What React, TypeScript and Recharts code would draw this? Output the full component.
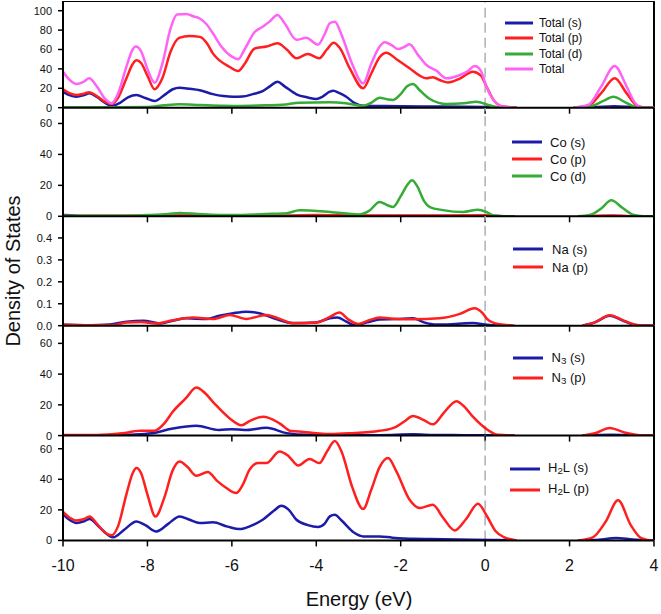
import { LineChart, Line, XAxis, YAxis, ReferenceLine } from "recharts";

type Pt = [number, number | null];

const energyTicks = [-10, -8, -6, -4, -2, 0, 2, 4];
const totalTicks = [0, 20, 40, 60, 80, 100];
const coTicks = [0, 20, 40, 60];
const naTicks = [0, 0.1, 0.2, 0.3, 0.4];
const n3Ticks = [0, 20, 40, 60];
const h2lTicks = [0, 20, 40, 60];

// band gap: lines break between ~0.7 and ~2.2 eV
const gap: Pt = [1.5, null];

const totalS: Pt[] = [
  [-10, 16.5], [-9.85, 13], [-9.68, 11.3], [-9.5, 13], [-9.38, 14.8], [-9.2, 11], [-9.0, 5], [-8.85, 1.8],
  [-8.65, 5], [-8.45, 11], [-8.26, 13], [-8.05, 10], [-7.83, 6.9], [-7.6, 13], [-7.4, 19], [-7.24, 20.6],
  [-7.0, 19.5], [-6.76, 18], [-6.45, 14], [-6.2, 12], [-5.97, 11.3], [-5.75, 11.5], [-5.5, 14], [-5.27, 17],
  [-5.1, 22], [-4.92, 26.8], [-4.75, 22], [-4.47, 13.8], [-4.2, 10.5], [-4.0, 9], [-3.85, 11.5], [-3.68, 16.5],
  [-3.6, 17.5], [-3.45, 15], [-3.29, 11.3], [-3.1, 5], [-2.89, 2], [-2.5, 1.8], [-2.0, 1.5], [-1.5, 1.3],
  [-1.0, 1.2], [-0.5, 1.0], [0, 0.8], [0.3, 0.3], [0.75, 0], gap, [2.1, 0], [2.6, 0.5], [3.05, 1.5],
  [3.5, 0.5], [3.7, 0], [4, 0],
];
const totalP: Pt[] = [
  [-10, 19], [-9.85, 15], [-9.68, 13], [-9.5, 14.5], [-9.38, 15.9], [-9.2, 12], [-9.0, 6], [-8.85, 3.8],
  [-8.7, 10], [-8.5, 30], [-8.35, 45], [-8.26, 49], [-8.15, 46], [-8.0, 33], [-7.83, 19], [-7.65, 30],
  [-7.45, 58], [-7.25, 72], [-7.0, 74], [-6.76, 73], [-6.6, 67], [-6.45, 56], [-6.05, 42], [-5.85, 37.8],
  [-5.7, 45], [-5.46, 61], [-5.18, 63], [-4.92, 66.4], [-4.7, 60], [-4.47, 51], [-4.2, 55.4], [-3.93, 51],
  [-3.75, 60], [-3.59, 67], [-3.45, 62], [-3.2, 40], [-2.89, 20], [-2.7, 35], [-2.5, 52], [-2.34, 56.7],
  [-2.1, 50], [-1.79, 40.6], [-1.55, 33], [-1.39, 30.3], [-1.24, 31.3], [-1.05, 28], [-0.88, 26], [-0.6, 30],
  [-0.29, 37], [-0.1, 33], [0.03, 22], [0.2, 8], [0.4, 1.5], [0.75, 0], gap, [2.1, 0], [2.45, 2],
  [2.75, 15], [3.07, 30.3], [3.35, 15], [3.6, 2], [3.8, 0], [4, 0],
];
const totalD: Pt[] = [
  [-10, 0.5], [-9, 0.5], [-8.0, 0.8], [-7.6, 2.5], [-7.24, 3.5], [-6.76, 2.8], [-6.2, 2], [-5.8, 1.8],
  [-5.2, 2.5], [-4.8, 3], [-4.4, 5], [-3.68, 5.5], [-3.3, 4.5], [-2.89, 1.8], [-2.7, 5], [-2.5, 10.3],
  [-2.3, 8.5], [-2.18, 8], [-2.0, 14], [-1.85, 22], [-1.71, 24.4], [-1.55, 18], [-1.31, 9], [-1.1, 5],
  [-0.92, 3.8], [-0.5, 4.5], [-0.21, 6.2], [0.1, 2.5], [0.3, 0.5], [0.6, 0], gap, [2.2, 0], [2.55, 2],
  [2.8, 7], [3.04, 11.3], [3.3, 6], [3.55, 1], [3.8, 0], [4, 0],
];
const totalAll: Pt[] = [
  [-10, 37], [-9.85, 29], [-9.68, 24.4], [-9.5, 27], [-9.38, 30.3], [-9.2, 22], [-9.0, 9], [-8.85, 4.5],
  [-8.7, 14], [-8.5, 42], [-8.35, 60], [-8.28, 63], [-8.15, 58], [-8.0, 40], [-7.83, 25.8], [-7.65, 45],
  [-7.45, 82], [-7.3, 96], [-7.08, 96.6], [-6.9, 94], [-6.76, 92], [-6.6, 86], [-6.45, 76.7], [-6.25, 63],
  [-6.0, 52.6], [-5.85, 50], [-5.7, 60], [-5.46, 78], [-5.27, 83.5], [-5.1, 89], [-4.92, 95.5], [-4.75, 87],
  [-4.47, 70], [-4.24, 72], [-3.96, 65], [-3.8, 76], [-3.68, 87], [-3.56, 88.7], [-3.4, 75], [-3.15, 45],
  [-2.89, 25], [-2.7, 45], [-2.5, 63], [-2.38, 67.4], [-2.2, 64], [-2.07, 60.5], [-1.9, 63], [-1.79, 65.3],
  [-1.6, 55], [-1.39, 44], [-1.15, 38], [-0.92, 30.3], [-0.6, 33.7], [-0.4, 38], [-0.25, 43], [-0.1, 38],
  [0.03, 21.6], [0.2, 8], [0.42, 1], [0.75, 0], gap, [2.08, 0], [2.45, 3], [2.75, 22], [3.07, 43],
  [3.35, 22], [3.55, 5], [3.7, 0], [4, 0],
];

const coS: Pt[] = [
  [-10, 0.8], [-9.8, 0.6], [-9.5, 0.2], [-8, 0.2], [-6, 0.2], [-4, 0.3], [-2, 0.2], [0, 0.2], [0.6, 0],
  gap, [2.3, 0], [3, 0.2], [3.7, 0], [4, 0],
];
const coP: Pt[] = [
  [-10, 0.2], [-8, 0.3], [-7, 0.6], [-6, 0.5], [-5, 0.3], [-4, 0.8], [-3, 0.5], [-2, 0.5], [-1, 0.5],
  [0, 0.6], [0.4, 0.1], [0.7, 0], gap, [2.3, 0], [3, 0.5], [3.7, 0], [4, 0],
];
const coD: Pt[] = [
  [-10, 0.3], [-8.5, 0.3], [-8, 0.8], [-7.5, 1.5], [-7.24, 2.1], [-6.8, 1.5], [-6.0, 0.8], [-5.2, 1.5],
  [-4.7, 2], [-4.4, 3.9], [-3.67, 2.8], [-3.0, 1.2], [-2.75, 3.5], [-2.5, 9.3], [-2.3, 7], [-2.18, 6],
  [-2.0, 13], [-1.85, 20], [-1.73, 23.3], [-1.6, 19], [-1.45, 10], [-1.31, 6], [-1.0, 4], [-0.52, 2.8],
  [-0.17, 4.3], [0.05, 2.5], [0.2, 0.5], [0.5, 0], [0.7, 0], gap, [2.2, 0], [2.5, 1], [2.75, 5],
  [2.99, 10.3], [3.25, 5.5], [3.5, 1], [3.75, 0], [4, 0],
];

const naS: Pt[] = [
  [-10, 0.004], [-9.3, 0.002], [-8.9, 0.005], [-8.5, 0.018], [-8.1, 0.023], [-7.7, 0.01], [-7.35, 0.025],
  [-7.08, 0.034], [-6.6, 0.03], [-6.3, 0.045], [-5.97, 0.057], [-5.66, 0.064], [-5.35, 0.057], [-4.95, 0.03],
  [-4.55, 0.012], [-4.0, 0.015], [-3.68, 0.034], [-3.5, 0.037], [-3.3, 0.02], [-3.1, 0.003], [-2.8, 0.015],
  [-2.5, 0.028], [-2.1, 0.03], [-1.71, 0.034], [-1.45, 0.015], [-1.15, 0.005], [-0.7, 0.008], [-0.3, 0.012],
  [0.05, 0.004], [0.3, 0.001], [0.6, 0], gap, [2.3, 0], [2.6, 0.015], [2.95, 0.045], [3.3, 0.02],
  [3.6, 0.002], [4, 0],
];
const naP: Pt[] = [
  [-10, 0.005], [-9.5, 0.002], [-8.8, 0.003], [-8.5, 0.015], [-8.15, 0.017], [-7.8, 0.01], [-7.4, 0.025],
  [-6.92, 0.037], [-6.45, 0.03], [-6.05, 0.049], [-5.66, 0.031], [-5.18, 0.049], [-4.85, 0.03],
  [-4.55, 0.011], [-4.0, 0.014], [-3.68, 0.04], [-3.45, 0.06], [-3.25, 0.03], [-3.01, 0.008], [-2.75, 0.025],
  [-2.5, 0.037], [-2.1, 0.03], [-1.71, 0.029], [-1.08, 0.034], [-0.6, 0.054], [-0.25, 0.08], [-0.05, 0.055],
  [0.05, 0.03], [0.3, 0.008], [0.6, 0.002], [0.7, 0], gap, [2.3, 0], [2.6, 0.015], [2.95, 0.048],
  [3.3, 0.022], [3.6, 0.003], [4, 0],
];

const n3S: Pt[] = [
  [-10, 0.2], [-9, 0.2], [-8.4, 0.6], [-7.9, 1.5], [-7.4, 4.6], [-6.84, 6.4], [-6.3, 3.6], [-6.0, 4.2],
  [-5.7, 3.6], [-5.18, 5.1], [-4.7, 1.6], [-4.2, 0.5], [-3.5, 0.4], [-2.5, 0.3], [-1.7, 0.8], [-1.2, 0.4],
  [-0.5, 0.3], [0, 0.2], [0.7, 0], gap, [2.3, 0], [3.0, 0.6], [3.7, 0], [4, 0],
];
const n3P: Pt[] = [
  [-10, 0.4], [-9.2, 0.4], [-8.6, 1.5], [-8.18, 3.1], [-7.83, 3.2], [-7.6, 8], [-7.4, 15.5], [-7.1, 24],
  [-6.84, 31.3], [-6.65, 28], [-6.45, 22], [-6.05, 11.2], [-5.77, 6.8], [-5.56, 9.8], [-5.26, 12.2],
  [-4.87, 8], [-4.6, 3], [-4.3, 2.4], [-4.0, 1.6], [-3.67, 1], [-3.2, 1.5], [-2.5, 3.1], [-2.11, 5.7],
  [-1.9, 9.5], [-1.71, 12.7], [-1.45, 10], [-1.24, 7.3], [-0.96, 15.5], [-0.68, 22.4], [-0.5, 19],
  [-0.29, 12.3], [0.01, 4.7], [0.3, 0.5], [0.7, 0], gap, [2.3, 0], [2.6, 1.5], [2.95, 5], [3.3, 2],
  [3.75, 0], [4, 0],
];

const h2lS: Pt[] = [
  [-10, 17.1], [-9.85, 13.5], [-9.68, 11.4], [-9.5, 12.5], [-9.37, 14], [-9.15, 9], [-8.81, 2], [-8.55, 7],
  [-8.26, 12.4], [-8.05, 10], [-7.79, 5.9], [-7.5, 11], [-7.24, 15.7], [-7.0, 13.5], [-6.76, 11.4],
  [-6.45, 11.8], [-6.1, 9], [-5.82, 7.4], [-5.55, 9.5], [-5.27, 13.5], [-5.0, 19.5], [-4.83, 22.7],
  [-4.65, 20], [-4.47, 13.5], [-4.2, 10], [-3.96, 8.8], [-3.8, 11], [-3.68, 15.7], [-3.56, 16.8], [-3.4, 13],
  [-3.1, 5], [-2.89, 2.6], [-2.5, 2.6], [-2.2, 1.8], [-1.7, 1], [-1.0, 0.8], [-0.3, 0.5], [0.3, 0.2],
  [0.7, 0], gap, [2.2, 0], [2.7, 0.5], [3.1, 1.5], [3.5, 0.6], [3.9, 0], [4, 0],
];
const h2lP: Pt[] = [
  [-10, 18.6], [-9.85, 15], [-9.68, 13.1], [-9.5, 14], [-9.37, 15.7], [-9.2, 11], [-9.0, 5], [-8.85, 3.3],
  [-8.7, 9], [-8.5, 30], [-8.35, 44], [-8.26, 47.4], [-8.15, 44], [-8.0, 30], [-7.81, 15.7], [-7.6, 28],
  [-7.4, 46], [-7.24, 51.7], [-7.05, 48], [-6.84, 42.3], [-6.57, 44.8], [-6.35, 39], [-6.13, 34.3],
  [-5.9, 31], [-5.75, 36], [-5.58, 46.3], [-5.38, 50.6], [-5.18, 50.6], [-4.87, 58.2], [-4.65, 55],
  [-4.43, 49], [-4.16, 53.3], [-3.93, 50.6], [-3.75, 58], [-3.56, 65], [-3.4, 58], [-3.15, 35],
  [-2.89, 20.5], [-2.7, 33], [-2.5, 48], [-2.3, 53.9], [-2.1, 45], [-1.79, 26.6], [-1.55, 21.2],
  [-1.24, 23.4], [-1.0, 15], [-0.72, 6.5], [-0.45, 14], [-0.17, 24], [0.04, 16], [0.25, 6], [0.44, 2.2],
  [0.75, 0], gap, [2.2, 0], [2.55, 2], [2.85, 12], [3.15, 26.2], [3.45, 10], [3.7, 1.5], [3.98, 0], [4, 0],
];

const BLUE = "#1c1ca8";
const RED = "#ff1f1f";
const GREEN = "#36ab36";
const PINK = "#ff63f5";
const FONT = '"Liberation Sans", Arial, sans-serif';

type Label = { pre: string; sub?: string; post?: string };
type Series = { pts: Pt[]; color: string; label: Label };

const rows = (pts: Pt[]) => pts.map(([x, y]) => ({ x, y }));

function Panel({
  top, height, yMax, yTicks, yFmt, series, last, frameTop,
}: {
  top: number; height: number; yMax: number; yTicks: number[];
  yFmt?: (v: number) => string; series: Series[]; last?: boolean; frameTop?: boolean;
}) {
  return (
    <div style={{ position: "absolute", left: 0, top }}>
      <LineChart width={661} height={height + 40} margin={{ top: 0, right: 7, bottom: 0, left: 0 }}>
        <XAxis
          type="number"
          dataKey="x"
          domain={[-10, 4]}
          ticks={energyTicks}
          allowDataOverflow
          height={40}
          tickSize={6}
          tickMargin={13}
          stroke="#000"
          axisLine={{ strokeWidth: 2 }}
          tickLine={{ strokeWidth: 1.5 }}
          tick={{ fontSize: 16, fill: "#111" }}
          tickFormatter={last ? (v: number) => String(v) : () => ""}
        />
        <YAxis
          type="number"
          domain={[0, yMax]}
          ticks={yTicks}
          allowDataOverflow
          width={63}
          tickSize={5}
          tickMargin={6}
          stroke="#000"
          axisLine={{ strokeWidth: 2 }}
          tickLine={{ strokeWidth: 1.5 }}
          tick={{ fontSize: 11, fill: "#111" }}
          tickFormatter={yFmt}
        />
        <ReferenceLine x={0} stroke="#a9b2b9" strokeWidth={1.5} strokeDasharray="10 5" />
        <ReferenceLine x={4} stroke="#000" strokeWidth={2} />
        {frameTop && <ReferenceLine y={yMax} stroke="#000" strokeWidth={2} />}
        {series.map((s, i) => (
          <Line
            key={i}
            data={rows(s.pts)}
            dataKey="y"
            type="monotone"
            stroke={s.color}
            strokeWidth={2.5}
            dot={false}
            connectNulls={false}
            isAnimationActive={false}
          />
        ))}
      </LineChart>
    </div>
  );
}

function LegendBox({
  left, top, row, size, swatch, space, series,
}: {
  left: number; top: number; row: number; size: number; swatch: number; space: number; series: Series[];
}) {
  return (
    <div style={{ position: "absolute", left, top, fontSize: size, color: "#111" }}>
      {series.map((s, i) => (
        <div key={i} style={{ display: "flex", alignItems: "center", height: row, whiteSpace: "nowrap" }}>
          <svg width={swatch} height={6} style={{ marginRight: space, display: "block" }}>
            <line x1={0} y1={3} x2={swatch} y2={3} stroke={s.color} strokeWidth={3} />
          </svg>
          <span>
            {s.label.pre}
            {s.label.sub && <sub style={{ fontSize: size * 0.75, verticalAlign: "-0.25em" }}>{s.label.sub}</sub>}
            {s.label.post}
          </span>
        </div>
      ))}
    </div>
  );
}

const totalSeries: Series[] = [
  { pts: totalS, color: BLUE, label: { pre: "Total (s)" } },
  { pts: totalP, color: RED, label: { pre: "Total (p)" } },
  { pts: totalD, color: GREEN, label: { pre: "Total (d)" } },
  { pts: totalAll, color: PINK, label: { pre: "Total" } },
];
const coSeries: Series[] = [
  { pts: coS, color: BLUE, label: { pre: "Co (s)" } },
  { pts: coP, color: RED, label: { pre: "Co (p)" } },
  { pts: coD, color: GREEN, label: { pre: "Co (d)" } },
];
const naSeries: Series[] = [
  { pts: naS, color: BLUE, label: { pre: "Na (s)" } },
  { pts: naP, color: RED, label: { pre: "Na (p)" } },
];
const n3Series: Series[] = [
  { pts: n3S, color: BLUE, label: { pre: "N", sub: "3", post: " (s)" } },
  { pts: n3P, color: RED, label: { pre: "N", sub: "3", post: " (p)" } },
];
const h2lSeries: Series[] = [
  { pts: h2lS, color: BLUE, label: { pre: "H", sub: "2", post: "L (s)" } },
  { pts: h2lP, color: RED, label: { pre: "H", sub: "2", post: "L (p)" } },
];

export default function App() {
  return (
    <div style={{ position: "absolute", left: 0, top: 0, width: 661, height: 614, background: "#fff", fontFamily: FONT, overflow: "hidden" }}>
      <Panel top={1} height={106.7} yMax={110} yTicks={totalTicks} series={totalSeries} frameTop />
      <Panel top={107.7} height={108.3} yMax={70} yTicks={coTicks} series={coSeries} />
      <Panel top={216} height={109.7} yMax={0.5} yTicks={naTicks} yFmt={(v) => v.toFixed(1)} series={naSeries} />
      <Panel top={325.7} height={109.6} yMax={71.3} yTicks={n3Ticks} series={n3Series} />
      <Panel top={435.3} height={105.4} yMax={69} yTicks={h2lTicks} series={h2lSeries} last />

      <LegendBox left={505} top={15.5} row={15.3} size={12} swatch={28} space={6} series={totalSeries} />
      <LegendBox left={512} top={133.5} row={17} size={13} swatch={30} space={8} series={coSeries} />
      <LegendBox left={513} top={240} row={18} size={13} swatch={30} space={9} series={naSeries} />
      <LegendBox left={512.5} top={348} row={20} size={13} swatch={30} space={9} series={n3Series} />
      <LegendBox left={510} top={458} row={21} size={13} swatch={30} space={8} series={h2lSeries} />

      <div style={{ position: "absolute", left: 359, top: 589, transform: "translateX(-50%)", fontSize: 20, lineHeight: "20px", whiteSpace: "nowrap", color: "#111" }}>
        Energy (eV)
      </div>
      <div style={{ position: "absolute", left: 12.5, top: 271, transform: "translate(-50%, -50%) rotate(-90deg)", fontSize: 20, lineHeight: "20px", whiteSpace: "nowrap", color: "#111" }}>
        Density of States
      </div>
    </div>
  );
}
